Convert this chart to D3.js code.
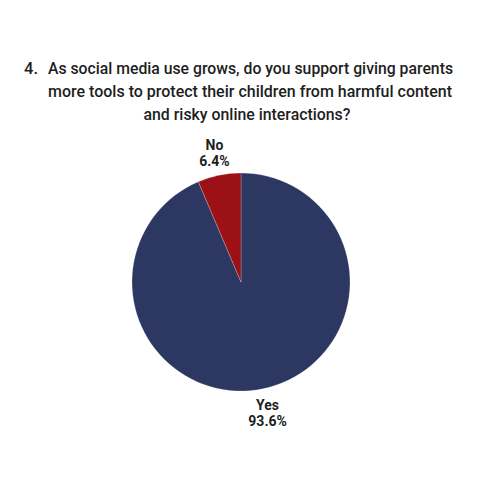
<!DOCTYPE html>
<html>
<head>
<meta charset="utf-8">
<script src="https://cdn.jsdelivr.net/npm/d3@7"></script>
<style>
  html, body { margin: 0; padding: 0; background: #fff; }
  svg { display: block; }
  .title { font-family: Roboto, "Noto Sans", sans-serif; font-weight: 500; font-size: 16.5px; fill: #1e1e1e; }
  .label { font-family: Roboto, "Noto Sans", sans-serif; font-weight: 700; font-size: 14px; fill: #1e1e1e; }
</style>
</head>
<body>
<svg id="chart" width="480" height="480"></svg>
<script>
const categories = ["Yes", "No"];
const shares = [93.6, 6.4];
const colors = ["#2c3862", "#9b1115"];
const titleNumber = "4.";
const titleLines = [
  "As social media use grows, do you support giving parents",
  "more tools to protect their children from harmful content",
  "and risky online interactions?"
];

const width = 480;
const height = 480;
const cx = 241;
const cy = 282;
const radius = 109;

const svg = d3.select("#chart");

// title, hanging number then centred last line
const title = svg.append("g");
title.append("text")
  .attr("class", "title")
  .attr("x", 24)
  .attr("y", 74)
  .text(titleNumber);
title.append("text")
  .attr("class", "title")
  .attr("x", 48)
  .attr("y", 74)
  .attr("textLength", 405)
  .attr("lengthAdjust", "spacingAndGlyphs")
  .text(titleLines[0]);
title.append("text")
  .attr("class", "title")
  .attr("x", 48)
  .attr("y", 97)
  .attr("textLength", 404)
  .attr("lengthAdjust", "spacingAndGlyphs")
  .text(titleLines[1]);
title.append("text")
  .attr("class", "title")
  .attr("x", 247)
  .attr("y", 120)
  .attr("text-anchor", "middle")
  .attr("textLength", 207)
  .attr("lengthAdjust", "spacingAndGlyphs")
  .text(titleLines[2]);

const data = categories.map((c, i) => ({ category: c, value: shares[i], color: colors[i] }));
const pie = d3.pie().sort(null).value(d => d.value);
const arcs = pie(data);
const arc = d3.arc().innerRadius(0).outerRadius(radius);

const g = svg.append("g").attr("transform", `translate(${cx},${cy})`);
g.selectAll("path.slice")
  .data(arcs)
  .join("path")
  .attr("class", "slice")
  .attr("fill", d => d.data.color)
  .attr("stroke", "#ffffff")
  .attr("stroke-opacity", 0.35)
  .attr("stroke-width", 0.6)
  .attr("d", arc);

// labels sit just outside the rim at each slice's mid angle
const labelArc = d3.arc().innerRadius(radius + 24).outerRadius(radius + 24);
const labels = g.selectAll("g.lbl")
  .data(arcs)
  .join("g")
  .attr("class", "lbl")
  .attr("transform", d => {
    const [x, y] = labelArc.centroid(d);
    return `translate(${x},${y})`;
  });
labels.append("text")
  .attr("class", "label")
  .attr("text-anchor", "middle")
  .attr("y", -2)
  .text(d => d.data.category);
labels.append("text")
  .attr("class", "label")
  .attr("text-anchor", "middle")
  .attr("y", 14)
  .text(d => `${d.data.value}%`);
</script>
</body>
</html>
